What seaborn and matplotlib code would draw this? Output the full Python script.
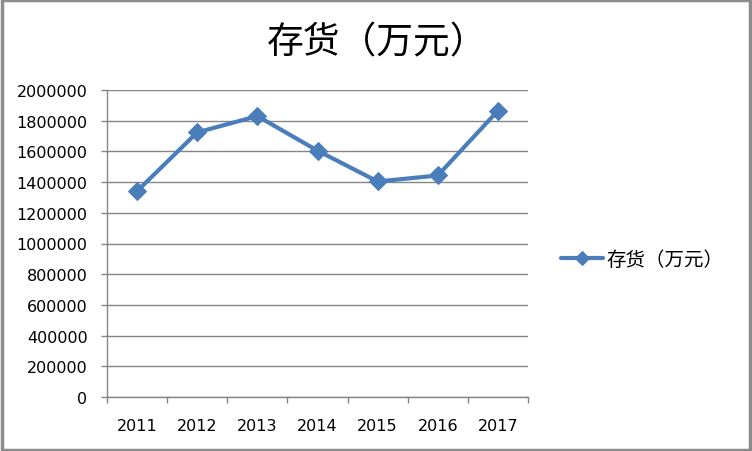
import pandas as pd
import matplotlib.pyplot as plt
import seaborn as sns
from matplotlib.patches import Rectangle

years = ['2011', '2012', '2013', '2014', '2015', '2016', '2017']
inventory = [1341000, 1724000, 1830000, 1605000, 1404000, 1443000, 1865000]
series_name = '存货（万元）'
y_ticks = list(range(0, 2000001, 200000))

df = pd.DataFrame({'year': years, 'value': inventory})

sns.set_style('white')
plt.rcParams['font.family'] = ['DejaVu Sans', 'Noto Sans CJK SC']
plt.rcParams['text.color'] = 'black'
plt.rcParams['xtick.labelcolor'] = 'black'
plt.rcParams['ytick.labelcolor'] = 'black'

fig = plt.figure(figsize=(7.52, 4.52), dpi=100)
ax = fig.add_axes([107 / 752, 54 / 452, 421 / 752, 307 / 452])

blue = '#4a7ebb'
grey = '#868686'
sns.lineplot(data=df, x='year', y='value', ax=ax, color=blue, linewidth=3,
             marker='D', markersize=9.5, markeredgecolor=blue, label=series_name)

ax.set_xlim(-0.5, len(years) - 0.5)
ax.set_ylim(0, 2000000)
ax.set_yticks(y_ticks)
ax.set_yticklabels([str(v) for v in y_ticks])
ax.set_xlabel('')
ax.set_ylabel('')
ax.yaxis.grid(True, color=grey, linewidth=1)
ax.set_axisbelow(True)

# category axis: tick marks between categories, labels centred
ax.set_xticks([i - 0.5 for i in range(len(years) + 1)], minor=True)
ax.tick_params(axis='x', which='major', bottom=True, length=0, pad=15, labelsize=11.5)
ax.tick_params(axis='x', which='minor', bottom=True, length=4, width=1, color=grey, direction='out')
ax.tick_params(axis='y', left=True, length=4, width=1, color=grey, direction='out', pad=10, labelsize=11.5)

for side in ['top', 'right']:
    ax.spines[side].set_visible(False)
for side in ['left', 'bottom']:
    ax.spines[side].set_color(grey)
    ax.spines[side].set_linewidth(1)

fig.text(377 / 752, 1 - 43 / 452, series_name, ha='center', va='center',
         fontsize=26.5, color='black', family=['Noto Sans CJK SC', 'DejaVu Sans'])

leg = ax.legend(loc='center left', bbox_to_anchor=(543 / 752, 1 - 260 / 452),
                bbox_transform=fig.transFigure, frameon=False, handlelength=2.2,
                handletextpad=0.15, markerscale=0.75,
                prop={'family': ['Noto Sans CJK SC', 'DejaVu Sans'], 'size': 14})

fig.patches.append(Rectangle((0.002, 0.003), 0.996, 0.994, transform=fig.transFigure,
                             fill=False, edgecolor='#8c8c8c', linewidth=2.5))

fig.savefig('out.png', dpi=100, facecolor='white')
